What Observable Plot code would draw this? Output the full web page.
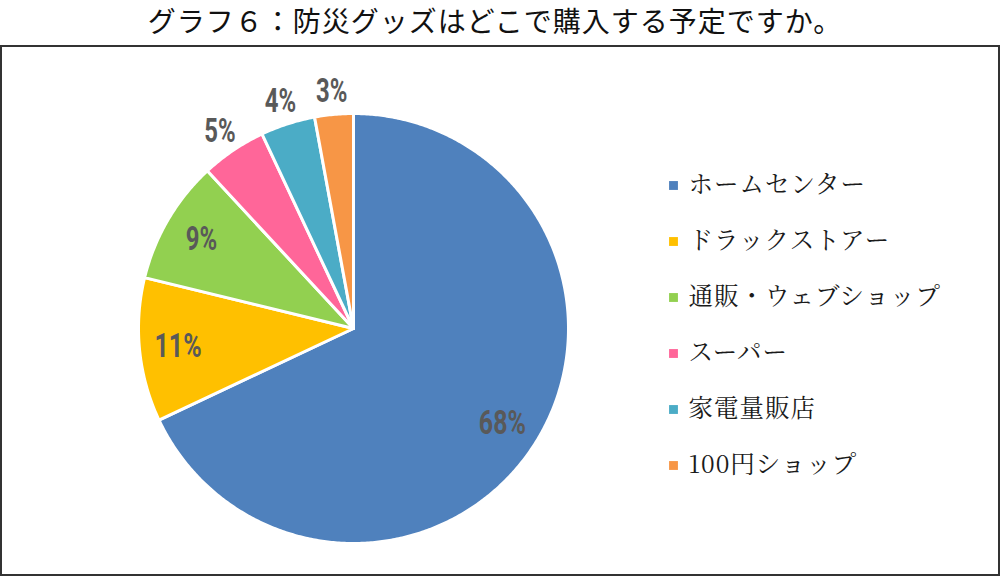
<!DOCTYPE html>
<html><head><meta charset="utf-8">
<script src="https://cdn.jsdelivr.net/npm/d3@7"></script>
<script src="https://cdn.jsdelivr.net/npm/@observablehq/plot@0.6"></script>
<style>
body{margin:0;width:1000px;height:577px;overflow:hidden;background:#fff;position:relative;font-family:"Noto Sans CJK JP",sans-serif}
#title{position:absolute;left:0;top:0;width:990px;text-align:center;font-size:28px;letter-spacing:1px;line-height:normal;color:#111;white-space:nowrap}
#box{position:absolute;left:0;top:45px;width:1000px;height:531px;border:2px solid #333;box-sizing:border-box}
#pie{position:absolute;left:0;top:0}
#legend{position:absolute;left:660px;top:157px}
</style></head><body>
<div id="box"></div>
<div id="pie"></div>
<div id="legend"></div>
<div id="title">グラフ６：防災グッズはどこで購入する予定ですか。</div>
<script>
const categories = ["ホームセンター","ドラックストアー","通販・ウェブショップ","スーパー","家電量販店","100円ショップ"];
const values = [68.0, 10.8, 9.3, 4.9, 4.1, 2.9];
const labels = ["68%","11%","9%","5%","4%","3%"];
const colors = ["#4F81BD","#FFC000","#92D050","#FF6699","#4BACC6","#F79646"];

// layout
const cx = 353, cy = 328, R = 215, E = 1.2;
const PW = 1000, PH = 600;

const arcs = d3.pie().sort(null).value((d, i) => values[i])(categories);
const pt = (a, k = 1) => [Math.sin(a) * k, -Math.cos(a) * k];

const slices = arcs.map((a, i) => {
  const ring = [[0, 0]];
  const n = Math.max(2, Math.ceil((a.endAngle - a.startAngle) / (Math.PI / 360)));
  for (let j = 0; j <= n; ++j) ring.push(pt(a.startAngle + (a.endAngle - a.startAngle) * j / n));
  ring.push([0, 0]);
  return {type: "Feature", properties: {category: categories[i]}, geometry: {type: "Polygon", coordinates: [ring]}};
});

const labelData = arcs.map((a, i) => {
  const mid = (a.startAngle + a.endAngle) / 2;
  const k = values[i] >= 9 ? 0.82 : 1.11;
  const [x, y] = pt(mid, k);
  return {x, y, text: labels[i]};
});

const domain = {type: "Polygon", coordinates: [[[-E, -E], [E, -E], [E, E], [-E, E], [-E, -E]]]};

const pie = Plot.plot({
  className: "pie",
  width: PW, height: PH,
  marginLeft: cx - E * R, marginRight: PW - (cx + E * R),
  marginTop: cy - E * R, marginBottom: PH - (cy + E * R),
  projection: {type: "identity", domain, inset: 0},
  color: {domain: categories, range: colors},
  marks: [
    Plot.geo(slices, {fill: d => d.properties.category, stroke: "white", strokeWidth: 3}),
    Plot.text(labelData, {x: "x", y: "y", text: "text", fontSize: 34, fontWeight: "bold", fill: "#595959",
      fontFamily: 'Roboto,"Liberation Sans",sans-serif'})
  ]
});
// condense the label glyphs like the reference's narrow bold face
pie.querySelectorAll("text").forEach(t => {
  const n = t.textContent.length;
  t.setAttribute("textLength", 15.7 * n);
  t.setAttribute("lengthAdjust", "spacingAndGlyphs");
});
document.getElementById("pie").appendChild(pie);

const legend = Plot.plot({
  width: 340, height: 336,
  marginLeft: 13, marginRight: 0, marginTop: 28, marginBottom: 28,
  x: {domain: [0, 1], axis: null},
  y: {type: "point", domain: categories, axis: null, padding: 0},
  color: {domain: categories, range: colors},
  marks: [
    Plot.dot(categories, {x: 0, y: d => d, fill: d => d, symbol: "square", r: 5}),
    Plot.text(categories, {x: 0, y: d => d, text: d => d, dx: 15, textAnchor: "start", fontSize: 24.5,
      fill: "#1a1a1a", fontFamily: '"Noto Serif CJK JP","Noto Sans CJK JP",serif'})
  ]
});
legend.style.letterSpacing = "1px";
document.getElementById("legend").appendChild(legend);
</script>
</body></html>
